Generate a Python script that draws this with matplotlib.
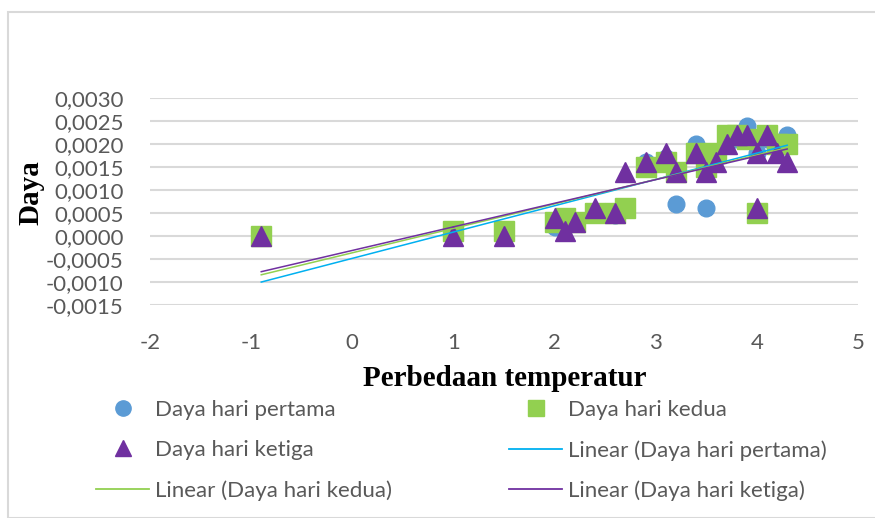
import numpy as np
import matplotlib
matplotlib.use("Agg")
import matplotlib.pyplot as plt
from matplotlib.patches import Rectangle
from matplotlib.lines import Line2D
from matplotlib.ticker import FuncFormatter

# ---------------- data ----------------
x_day1 = [-0.9, 1.0, 1.5, 2.0, 2.1, 2.2, 2.4, 2.6, 2.9, 3.1, 3.2, 3.4, 3.5, 3.6, 3.7, 3.8, 3.9, 4.0, 4.1, 4.2, 4.3]
y_day1 = [0.0000, 0.0000, 0.0000, 0.0002, 0.0002, 0.0003, 0.0005, 0.00045, 0.0016, 0.0017, 0.0007,
          0.0020, 0.0006, 0.0017, 0.0020, 0.0021, 0.0024, 0.0018, 0.0021, 0.0019, 0.0022]

x_day2 = [-0.9, 1.0, 1.5, 2.0, 2.1, 2.2, 2.4, 2.6, 2.7, 2.9, 3.1, 3.2, 3.4, 3.5, 3.6, 3.7, 3.8, 3.9, 4.0, 4.1, 4.2, 4.3]
y_day2 = [0.0000, 0.0001, 0.0001, 0.0003, 0.0004, 0.0003, 0.0005, 0.0005, 0.0006, 0.0015, 0.0016, 0.0014,
          0.0018, 0.0015, 0.0018, 0.0022, 0.0022, 0.0021, 0.0005, 0.0022, 0.0020, 0.0020]

x_day3 = [-0.9, 1.0, 1.5, 2.0, 2.1, 2.2, 2.4, 2.6, 2.7, 2.9, 3.1, 3.2, 3.4, 3.5, 3.6, 3.7, 3.8, 3.9, 4.0, 4.0, 4.1, 4.2, 4.3]
y_day3 = [0.0000, 0.0000, 0.0000, 0.0004, 0.0001, 0.0003, 0.0006, 0.0005, 0.0014, 0.0016, 0.0018, 0.0014,
          0.0018, 0.0014, 0.0016, 0.0020, 0.0022, 0.0022, 0.0018, 0.0006, 0.0022, 0.0018, 0.0016]

series_labels = ["Daya hari pertama", "Daya hari kedua", "Daya hari ketiga"]
trend_labels = ["Linear (Daya hari pertama)", "Linear (Daya hari kedua)", "Linear (Daya hari ketiga)"]
x_ticks = [-2, -1, 0, 1, 2, 3, 4, 5]
y_ticks = [-0.0015, -0.0010, -0.0005, 0.0000, 0.0005, 0.0010, 0.0015, 0.0020, 0.0025, 0.0030]
x_title = "Perbedaan temperatur"
y_title = "Daya"

# ---------------- style ----------------
c_blue = "#5B9BD5"
c_green = "#92D050"
c_purple = "#7030A0"
c_trend_blue = "#00B0F0"
grey_text = "#595959"
grid_c = "#D9D9D9"
sans = ["Lato", "DejaVu Sans"]
serif = ["Liberation Serif", "DejaVu Serif"]

W, H = 875, 518
fig = plt.figure(figsize=(W / 100, H / 100), dpi=100)
fig.patch.set_facecolor("white")

# chart border (Excel chart area)
fig.patches.append(Rectangle((8 / W, 0), 1.2, 1 - 12 / H, transform=fig.transFigure,
                             fill=False, edgecolor="#D9D9D9", linewidth=1.5))

ax = fig.add_axes([150 / W, 1 - 305 / H, (858 - 150) / W, (305 - 98) / H])
ax.set_xlim(-2, 5)
ax.set_ylim(-0.0015, 0.0030)
ax.set_xticks(x_ticks)
ax.set_yticks(y_ticks)
ax.yaxis.set_major_formatter(FuncFormatter(lambda v, p: f"{v:.4f}".replace(".", ",").replace("-0,0000", "0,0000")))
ax.xaxis.set_major_formatter(FuncFormatter(lambda v, p: f"{int(round(v))}"))
for s in ax.spines.values():
    s.set_visible(False)
ax.tick_params(axis="both", length=0, labelsize=16, labelcolor=grey_text)
ax.tick_params(axis="y", pad=19)
ax.tick_params(axis="x", pad=20)
for lab in ax.get_xticklabels() + ax.get_yticklabels():
    lab.set_fontfamily(sans)
ax.yaxis.grid(True, color=grid_c, linewidth=1.5)
ax.set_axisbelow(True)

ms_c, ms_s, ms_t = 12, 14, 14
ax.plot(x_day1, y_day1, linestyle="none", marker="o", markersize=ms_c, color=c_blue, zorder=3)
ax.plot(x_day2, y_day2, linestyle="none", marker="s", markersize=ms_s, color=c_green, zorder=4)
ax.plot(x_day3, y_day3, linestyle="none", marker="^", markersize=ms_t, color=c_purple, zorder=5)

# linear trendlines (least squares fit of each series)
for xs, ys, col, z in [(x_day1, y_day1, c_trend_blue, 6), (x_day2, y_day2, c_green, 7), (x_day3, y_day3, c_purple, 8)]:
    k, b = np.polyfit(xs, ys, 1)
    xx = np.array([min(xs), max(xs)])
    ax.plot(xx, k * xx + b, color=col, linewidth=1.1, zorder=z)

fig.text(505 / W, 1 - 378 / H, x_title, fontfamily=serif, fontweight="bold", fontsize=21,
         ha="center", va="center", color="black")
fig.text(31 / W, 1 - 193 / H, y_title, fontfamily=serif, fontweight="bold", fontsize=21,
         ha="center", va="center", rotation=90, color="black")

# legend (two columns placed manually)
h_c = Line2D([], [], linestyle="none", marker="o", markersize=11, color=c_blue)
h_s = Line2D([], [], linestyle="none", marker="s", markersize=11, color=c_green)
h_t = Line2D([], [], linestyle="none", marker="^", markersize=12, color=c_purple)
h_lb = Line2D([], [], color=c_trend_blue, linewidth=1.3)
h_lg = Line2D([], [], color=c_green, linewidth=1.3)
h_lp = Line2D([], [], color=c_purple, linewidth=1.3)

common = dict(frameon=False, handlelength=2.4, handletextpad=0.25,
              labelspacing=0.9, borderpad=0, borderaxespad=0, labelcolor=grey_text,
              prop={"family": sans, "size": 16})
leg1 = fig.legend([h_c, h_t, h_lg], [series_labels[0], series_labels[2], trend_labels[1]],
                  loc="upper left", bbox_to_anchor=(96 / W, 1 - 400 / H), **common)
leg2 = fig.legend([h_s, h_lb, h_lp], [series_labels[1], trend_labels[0], trend_labels[2]],
                  loc="upper left", bbox_to_anchor=(509 / W, 1 - 400 / H), **common)

fig.savefig("out.png", dpi=100, facecolor="white")
